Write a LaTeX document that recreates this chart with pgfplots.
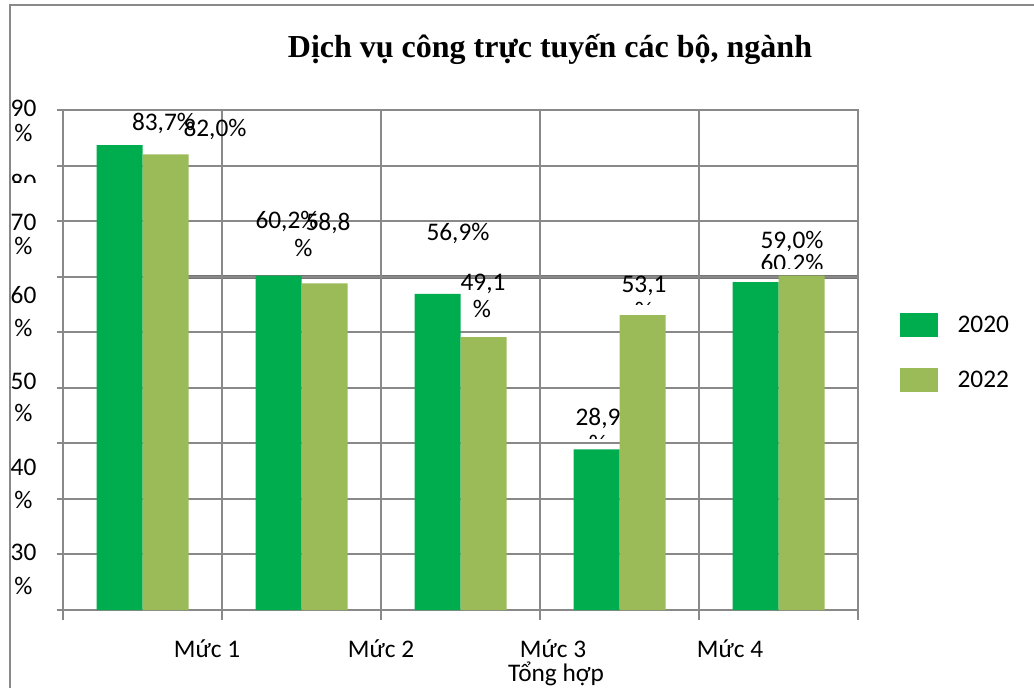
\documentclass[border=0pt]{standalone}
\usepackage{fontspec}
\setmainfont{Carlito}
\newfontfamily\tnr{Liberation Serif}
\usepackage{pgfplots}
\pgfplotsset{compat=1.18}
\definecolor{gcol}{RGB}{137,137,137}
\definecolor{cA}{RGB}{0,173,78}
\definecolor{cB}{RGB}{155,187,89}
\pgfplotsset{sqleg/.style={legend image code/.code={\fill[##1] (0pt,-9pt) rectangle (28pt,9pt);}}}
\newcommand{\lf}{\fontsize{19}{22}\selectfont}
\begin{document}
\begin{tikzpicture}
\path[use as bounding box] (0,0) rectangle (775.5pt,-516pt);
\begin{scope}[x=0.75pt,y=-0.75pt]
\draw[gcol,line width=1.5pt] (10,690)--(10,5)--(1040,5);
\draw[gcol!85!black,line width=2.4pt] (188,277)--(858,277);
\end{scope}
\begin{axis}[
  at={(47.25pt,-457.5pt)}, anchor=south west,
  scale only axis, width=596.25pt, height=375pt,
  xmin=-0.5, xmax=4.5, ymin=0, ymax=90,
  ybar=0pt, bar width=34.5pt, sqleg,
  xtick={-0.5,0.5,1.5,2.5,3.5,4.5}, xticklabels={,,},
  ytick={0,10,...,90}, yticklabels={,,},
  xmajorgrids, ymajorgrids,
  grid style={gcol, line width=1.5pt},
  axis line style={gcol, line width=1.5pt},
  tick style={gcol, line width=1.5pt},
  major tick length=7.5pt, tick align=outside,
  xtick pos=bottom, ytick pos=left,
  ytick style={xshift=3pt},
  legend style={at={(1.0528,0.515)}, anchor=west, draw=none, fill=none,
    font=\lf, inner sep=0pt, row sep=23pt, column sep=13pt},
  legend cell align=left,
]
\addplot[fill=cA, draw=none] coordinates {(0,83.7) (1,60.2) (2,56.9) (3,28.9) (4,59.0)};
\addplot[fill=cB, draw=none] coordinates {(0,82.0) (1,58.8) (2,49.1) (3,53.1) (4,60.2)};
\legend{2020,2022}
\end{axis}
\begin{scope}[x=0.75pt,y=-0.75pt, every node/.style={font=\lf, inner sep=0pt}]
% title
\node[font=\tnr\bfseries\fontsize{24}{28}\selectfont, anchor=base] at (550,58) {Dịch vụ công trực tuyến các bộ, ngành};
% y labels
\node at (23.5,108) {90}; \node at (23.5,133) {\%};
\begin{scope}\clip (0,160) rectangle (55,182.5); \node at (23.5,183) {80}; \end{scope}
\node at (23.5,222) {70}; \node at (23.5,246) {\%};
\node at (23.5,295) {60}; \node at (23.5,328) {\%};
\node at (23.5,381) {50}; \node at (23.5,413) {\%};
\node at (23.5,467) {40}; \node at (23.5,500) {\%};
\node at (23.5,552) {30}; \node at (23.5,586) {\%};
% x labels
\node[anchor=base] at (207,657) {Mức 1};
\node[anchor=base] at (381,657) {Mức 2};
\node[anchor=base] at (553,657) {Mức 3};
\node[anchor=base] at (556,681) {Tổng hợp};
\node[anchor=base] at (730,657) {Mức 4};
% data labels
\node[anchor=base] at (163.5,131) {83,7\%};
\node[anchor=base] at (215,136.5) {82,0\%};
\node[anchor=base] at (287,228) {60,2\%};
\node[anchor=base] at (328,230) {58,8};
\node[anchor=base] at (303.5,256) {\%};
\node[anchor=base] at (458,240) {56,9\%};
\node[anchor=base] at (483,290) {49,1};
\node[anchor=base] at (482,317) {\%};
\node[anchor=base] at (644,292) {53,1};
\begin{scope}\clip (600,295) rectangle (690,304); \node[anchor=base] at (644,319) {\%}; \end{scope}
\node[anchor=base] at (598,425) {28,9};
\begin{scope}\clip (560,430) rectangle (640,438); \node[anchor=base] at (598,452) {\%}; \end{scope}
\node[anchor=base] at (792,248) {59,0\%};
\begin{scope}\clip (740,250) rectangle (850,268); \node[anchor=base] at (792,271) {60,2\%}; \end{scope}
\end{scope}
\end{tikzpicture}
\end{document}
